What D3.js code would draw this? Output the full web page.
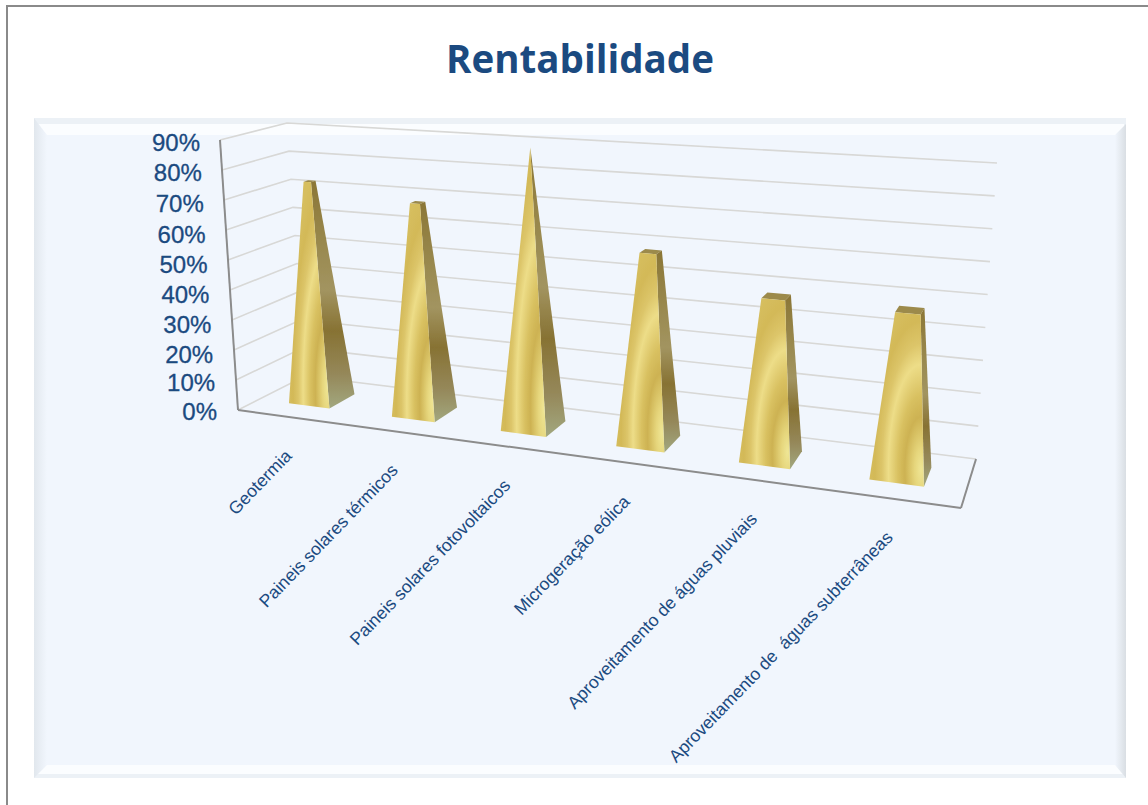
<!DOCTYPE html>
<html>
<head>
<meta charset="utf-8">
<script src="https://cdn.jsdelivr.net/npm/d3@7"></script>
<style>
  html, body { margin: 0; padding: 0; background: #fff; }
  svg { display: block; }
</style>
</head>
<body>
<div id="viz"></div>
<script>
// chart data
var categories = ['Geotermia', 'Paineis solares térmicos', 'Paineis solares fotovoltaicos',
	'Microgeração eólica', 'Aproveitamento de águas pluviais', 'Aproveitamento de  águas subterrâneas'];
var values = [74, 69.5, 90, 59.5, 49, 48.5];
var tickValues = [0, 10, 20, 30, 40, 50, 60, 70, 80, 90];
var titleText = 'Rentabilidade';

var blue = '#1b4a80';

var svg = d3.select('#viz').append('svg')
	.attr('width', 1148)
	.attr('height', 805);

var defs = svg.append('defs');

defs.append('filter').attr('id', 'soft')
	.attr('x', '-5%').attr('y', '-5%').attr('width', '110%').attr('height', '110%')
	.append('feGaussianBlur').attr('stdDeviation', 0.5);

function addLinear(id, x2, y2, stops) {
	var g = defs.append('linearGradient').attr('id', id)
		.attr('x1', 0).attr('y1', 0).attr('x2', x2).attr('y2', y2);
	stops.forEach(function(s) {
		g.append('stop').attr('offset', s[0]).attr('stop-color', s[1]);
	});
}

addLinear('bevelLeft', 1, 0, [[0, '#e1e7ed'], [1, '#f1f6fd']]);
addLinear('bevelRight', 1, 0, [[0, '#f1f6fd'], [1, '#d9dee3']]);
addLinear('sideFace', 0, 1, [[0, '#8b7636'], [0.3, '#9a8a50'], [0.48, '#a29460'], [0.66, '#877233'], [0.85, '#95885a'], [1, '#a2a87f']]);

// wood like rings on the front faces
var ring = defs.append('radialGradient').attr('id', 'frontFace')
	.attr('cx', 0.95).attr('cy', 0.9).attr('r', 1);
[[0, '#efe695'], [0.12, '#e6d67c'], [0.3, '#cdb252'], [0.42, '#d8c060'], [0.6, '#eddd88'],
 [0.72, '#dcc569'], [0.85, '#d3b958'], [1, '#d6be5e']].forEach(function(s) {
	ring.append('stop').attr('offset', s[0]).attr('stop-color', s[1]);
});

// outer frame lines
svg.append('path')
	.attr('d', d3.line()([[7, 805], [7, 6], [1148, 6]]))
	.attr('fill', 'none')
	.attr('stroke', '#8a8a8a')
	.attr('stroke-width', 2);

// background panel with its bevel
var panel = svg.append('g').attr('id', 'panel');
panel.append('rect').attr('x', 34).attr('y', 118).attr('width', 1092).attr('height', 660).attr('fill', '#ecf1f6');
panel.append('rect').attr('x', 36).attr('y', 124).attr('width', 1088).attr('height', 650).attr('fill', '#fbfdff');
panel.append('rect').attr('x', 47).attr('y', 135).attr('width', 1068).attr('height', 630).attr('fill', '#f1f6fd');
panel.append('path').attr('d', d3.line()([[34, 118], [47, 135], [47, 765], [34, 778]])).attr('fill', 'url(#bevelLeft)');
panel.append('path').attr('d', d3.line()([[1115, 135], [1126, 124], [1126, 778], [1115, 765]])).attr('fill', 'url(#bevelRight)');

svg.append('text')
	.attr('x', 580)
	.attr('y', 73)
	.attr('text-anchor', 'middle')
	.attr('style', 'font-family: "Open Sans"; font-size: 38.5px; font-weight: bold;')
	.attr('fill', blue)
	.text(titleText);

// perspective map of a quad, (u,v) in the unit square
function quadMap(p0, p1, p2, p3) {
	var dx1 = p1[0] - p2[0], dx2 = p3[0] - p2[0], sx = p0[0] - p1[0] + p2[0] - p3[0];
	var dy1 = p1[1] - p2[1], dy2 = p3[1] - p2[1], sy = p0[1] - p1[1] + p2[1] - p3[1];
	var det = dx1 * dy2 - dx2 * dy1;
	var g = (sx * dy2 - dx2 * sy) / det;
	var h = (dx1 * sy - sx * dy1) / det;
	var a = p1[0] - p0[0] + g * p1[0], b = p3[0] - p0[0] + h * p3[0];
	var d = p1[1] - p0[1] + g * p1[1], e = p3[1] - p0[1] + h * p3[1];
	return function(u, v) {
		var w = g * u + h * v + 1;
		return [(a * u + b * v + p0[0]) / w, (d * u + e * v + p0[1]) / w];
	};
}

// floor and roof of the plot box: front left, front right, back right, back left
var floorMap = quadMap([238, 410], [961, 508], [976, 459], [305, 376]);
var roofMap = quadMap([220, 140], [981, 187], [997, 163], [287, 123]);

var height = d3.scaleLinear().domain([0, 90]).range([0, 1]);

function project(u, v, value) {
	var a = floorMap(u, v), b = roofMap(u, v), t = height(value);
	return [a[0] + (b[0] - a[0]) * t, a[1] + (b[1] - a[1]) * t];
}

var line = d3.line().curve(d3.curveLinearClosed);

var chart = svg.append('g').attr('id', 'chart').attr('filter', 'url(#soft)');

// gridlines on the side wall and the back wall
var grid = chart.append('g').attr('id', 'grid');
grid.selectAll('path')
	.data(tickValues)
	.enter()
	.append('path')
	.attr('d', function(d) {
		return d3.line()([project(0, 0, d), project(0, 1, d), project(1, 1, d)]);
	})
	.attr('fill', 'none')
	.attr('stroke', '#d8d8d6')
	.attr('stroke-width', 1.6);

// box edges
var edges = [
	[[0, 0, 0], [0, 0, 90]],
	[[0, 0, 0], [1, 0, 0]],
	[[1, 0, 0], [1, 1, 0]]
];
chart.append('g').attr('id', 'edges').selectAll('path')
	.data(edges)
	.enter()
	.append('path')
	.attr('d', function(d) {
		return d3.line()(d.map(function(p) { return project(p[0], p[1], p[2]); }));
	})
	.attr('fill', 'none')
	.attr('stroke', '#8c8c8c')
	.attr('stroke-width', 2);

// pillars, a pyramid cut off at the value
var band = d3.scaleBand().domain(categories).range([0, 1]).paddingInner(0.6).paddingOuter(0.3);
var depth = [0.3, 0.7];

function corner(cat, value, sideU, sideV) {
	var c = band(cat) + band.bandwidth() / 2;
	var cv = (depth[0] + depth[1]) / 2;
	var shrink = 1 - height(value);
	var u = c + sideU * band.bandwidth() / 2 * shrink;
	var v = cv + sideV * (depth[1] - depth[0]) / 2 * shrink;
	return project(u, v, value);
}

var pillars = chart.selectAll('g.pillar')
	.data(categories)
	.enter()
	.append('g')
	.attr('class', 'pillar');

pillars.append('path')
	.attr('d', function(d, i) {
		var top = values[i];
		return line([corner(d, top, -1, 1), corner(d, top, 1, 1), corner(d, top, 1, -1), corner(d, top, -1, -1)]);
	})
	.attr('fill', '#9c8a4c');

pillars.append('path')
	.attr('d', function(d, i) {
		var top = values[i];
		return line([corner(d, 0, 1, -1), corner(d, 0, 1, 1), corner(d, top, 1, 1), corner(d, top, 1, -1)]);
	})
	.attr('fill', 'url(#sideFace)');

pillars.append('path')
	.attr('d', function(d, i) {
		var top = values[i];
		return line([corner(d, 0, -1, -1), corner(d, 0, 1, -1), corner(d, top, 1, -1), corner(d, top, -1, -1)]);
	})
	.attr('fill', 'url(#frontFace)');

// value axis labels, they lean with the front edge of the wall
var labelY = d3.scaleLinear().domain(tickValues).range([420, 391, 363, 333, 303, 273, 243, 212, 181, 151]);
var labelX = d3.scaleLinear().domain([0, 90]).range([217, 200]);

svg.append('g').attr('id', 'yLabels').selectAll('text')
	.data(tickValues)
	.enter()
	.append('text')
	.attr('x', function(d) { return labelX(d); })
	.attr('y', function(d) { return labelY(d); })
	.attr('text-anchor', 'end')
	.attr('style', 'font-family: "Liberation Sans"; font-size: 24px;')
	.attr('fill', blue)
	.attr('stroke', blue)
	.attr('stroke-width', 0.3)
	.text(function(d) { return d + '%'; });

// category labels
svg.append('g').attr('id', 'xLabels').selectAll('text')
	.data(categories)
	.enter()
	.append('text')
	.attr('transform', function(d) {
		var p = project(band(d) + band.bandwidth() / 2, 0, 0);
		return 'translate(' + (p[0] + 4) + ',' + (p[1] + 40) + ') rotate(-46)';
	})
	.attr('text-anchor', 'end')
	.attr('style', 'font-family: "Liberation Sans"; font-size: 17.6px; white-space: pre;')
	.attr('fill', blue)
	.text(function(d) { return d; });
</script>
</body>
</html>
